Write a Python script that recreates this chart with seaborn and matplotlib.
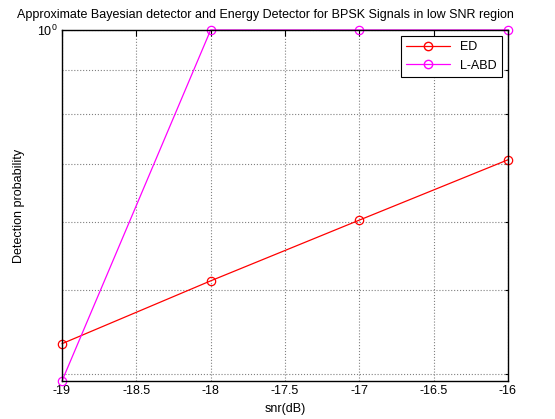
import matplotlib
matplotlib.use("Agg")
import matplotlib.pyplot as plt
import matplotlib.ticker as mticker
from matplotlib.lines import Line2D
import seaborn as sns
import pandas as pd

snr = [-19, -18, -17, -16]
ed = [0.434, 0.513, 0.603, 0.708]
labd = [0.393, 1.0, 1.0, 1.0]
xticks = [-19, -18.5, -18, -17.5, -17, -16.5, -16]

sns.set_style("white")
plt.rcParams['font.family'] = ['Liberation Sans', 'DejaVu Sans']
plt.rcParams.update({"text.color": "black", "axes.labelcolor": "black",
                     "xtick.color": "black", "ytick.color": "black"})

df = pd.DataFrame({
    "snr": snr * 2,
    "pd": ed + labd,
    "det": ["ED"] * 4 + ["L-ABD"] * 4,
})

fig = plt.figure(figsize=(5.55, 4.19), dpi=100)
ax = fig.add_axes([0.1117, 0.0907, 0.8036, 0.8377])
sns.lineplot(data=df, x="snr", y="pd", hue="det", palette={"ED": "#ff0000", "L-ABD": "#ff00ff"},
             marker="o", markersize=6, markerfacecolor="none", linewidth=0.9, ax=ax, legend=False)
for line, c in zip(ax.get_lines(), ["#ff0000", "#ff00ff"]):
    line.set_markeredgecolor(c)
    line.set_markeredgewidth(0.9)
    line.set_markerfacecolor("none")
    line.set_clip_on(False)

ax.set_yscale("log")
ax.set_xlim(-19, -16)
ax.set_ylim(min(labd), 1.0)
ax.set_xticks(xticks)
ax.set_xticklabels([f"{t:g}" for t in xticks])
ax.yaxis.set_major_locator(mticker.FixedLocator([1.0]))
ax.yaxis.set_major_formatter(mticker.FixedFormatter([r"$\mathregular{10^{0}}$"]))
ax.yaxis.set_minor_locator(mticker.FixedLocator([0.4, 0.5, 0.6, 0.7, 0.8, 0.9]))
ax.yaxis.set_minor_formatter(mticker.NullFormatter())

ax.grid(True, which="both", linestyle=":", color="#808080", linewidth=0.8)
ax.tick_params(axis="both", which="both", direction="in", top=True, right=True, labelsize=9,
               colors="black")
ax.tick_params(which="major", length=4, width=0.8, pad=3)
ax.tick_params(which="minor", length=2.5, width=0.8)
for s in ax.spines.values():
    s.set_color("black")
    s.set_linewidth(1.0)

ax.set_xlabel("snr(dB)", fontsize=9, labelpad=4)
ax.set_ylabel("Detection probability", fontsize=9)
ax.yaxis.set_label_coords(-0.082, 0.5)
ax.set_title("Approximate Bayesian detector and Energy Detector for BPSK Signals in low SNR region",
             fontsize=9, pad=9, x=0.457)

handles = [Line2D([], [], color="#ff0000", marker="o", markerfacecolor="none", markersize=6, linewidth=0.9),
           Line2D([], [], color="#ff00ff", marker="o", markerfacecolor="none", markersize=6, linewidth=0.9)]
leg = ax.legend(handles, ["ED", "L-ABD"], loc="upper right", fontsize=9, frameon=True, fancybox=False,
                edgecolor="black", framealpha=1, borderaxespad=0.5, handlelength=3.5)
leg.get_frame().set_linewidth(0.8)

fig.savefig("out.png", dpi=100)
